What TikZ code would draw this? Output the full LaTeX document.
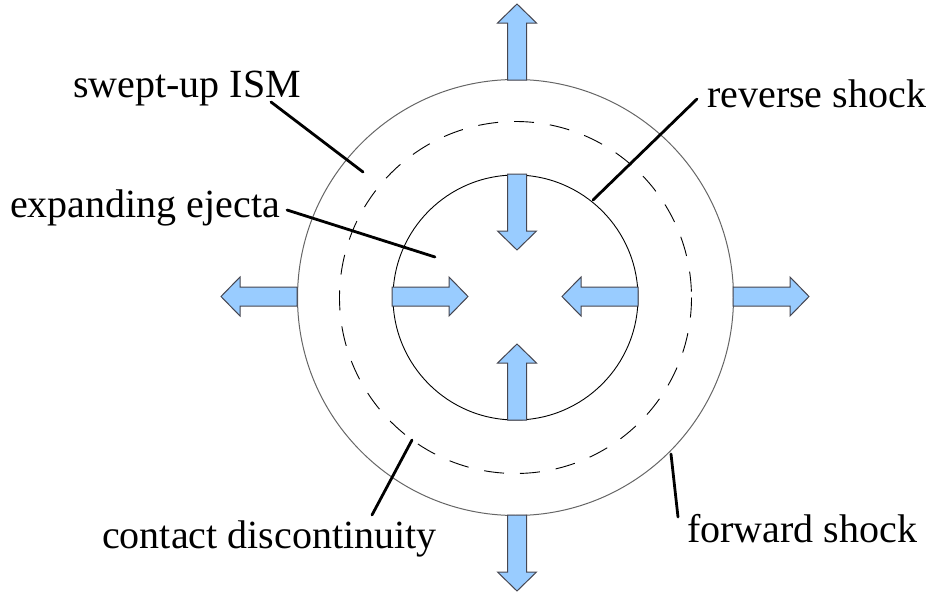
\documentclass[tikz,border=0pt]{standalone}
\usepackage{fontspec}
\newfontfamily\tnrfont{LiberationSerif-Regular.ttf}
\begin{document}
\begin{tikzpicture}[x=1pt,y=-1pt,
  arrowstyle/.style={fill={rgb,255:red,153;green,204;blue,255}, draw={rgb,255:red,70;green,70;blue,80}, line width=1pt, line join=miter},
  leader/.style={line width=2.8pt, line cap=round},
  lbl/.style={font=\tnrfont\fontsize{40}{48}\selectfont, inner sep=0pt, anchor=base west},
  blockarrow/.pic={\draw[arrowstyle] (0,-9.5) -- (57,-9.5) -- (57,-19.5) -- (76,0) -- (57,19.5) -- (57,9.5) -- (0,9.5) -- cycle;}]
\useasboundingbox (0,0) rectangle (932,597);
\coordinate (c) at (515.5,297.5);
% circles
\draw[line width=1pt, color=black!60] (c) circle[radius=218];
\draw[line width=0.9pt, dash pattern=on 20pt off 16pt] (c) circle[radius=176];
\draw[line width=0.9pt] (c) circle[radius=122.5];
% outer arrows
\pic[rotate=90] at (517,80) {blockarrow};
\pic[rotate=-90] at (517,515) {blockarrow};
\pic[rotate=180] at (297,296.5) {blockarrow};
\pic at (733,296.5) {blockarrow};
% inner arrows
\pic[rotate=-90] at (517,174) {blockarrow};
\pic[rotate=90] at (517,420) {blockarrow};
\pic at (392,296.5) {blockarrow};
\pic[rotate=180] at (638,296.5) {blockarrow};
% labels
\node[lbl] (ism) at (73,97) {swept-up ISM};
\node[lbl] (ej) at (10,217) {expanding ejecta};
\node[lbl] (rs) at (707,107) {reverse shock};
\node[lbl] (cd) at (102,548) {contact discontinuity};
\node[lbl] (fs) at (687,542) {forward shock};
% leader end points
\coordinate (ismA) at (271,102);
\coordinate (ismB) at (363,172);
\coordinate (ejA) at (287,210);
\coordinate (ejB) at (435,257);
\coordinate (rsA) at (697,99);
\coordinate (rsB) at (593,200);
\coordinate (cdA) at (412,440);
\coordinate (cdB) at (372,515);
\coordinate (fsA) at (671,454);
\coordinate (fsB) at (678,517);
\draw[leader] (ismA) -- (ismB);
\draw[leader] (ejA) -- (ejB);
\draw[leader] (rsA) -- (rsB);
\draw[leader] (cdA) -- (cdB);
\draw[leader] (fsA) -- (fsB);
\end{tikzpicture}
\end{document}
